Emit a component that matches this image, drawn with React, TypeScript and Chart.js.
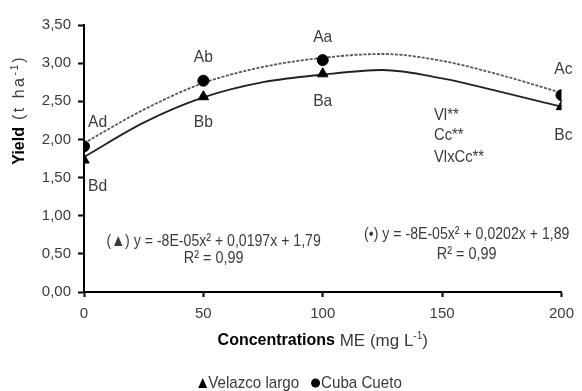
import React, { useEffect, useRef } from 'react';
import { Chart, registerables } from 'chart.js';

Chart.register(...registerables);

// ---- data ----
const concentrations = [0, 50, 100, 200];
const velazcoYield = [1.73, 2.56, 2.86, 2.43];
const cubaYield = [1.91, 2.77, 3.04, 2.58];

// fitted trend curves
const trendX = [0, 25, 50, 75, 100, 125, 150, 175, 200];
const velazcoTrend = [1.77, 2.22, 2.55, 2.75, 2.85, 2.91, 2.8, 2.62, 2.43];
const cubaTrend = [1.95, 2.39, 2.74, 2.95, 3.07, 3.12, 3.03, 2.84, 2.61];

const xTickValues = [0, 50, 100, 150, 200];
const yTickValues = [0, 0.5, 1, 1.5, 2, 2.5, 3, 3.5];

const seriesNames = ['Velazco largo', 'Cuba Cueto'];
const velazcoLetters = ['Bd', 'Bb', 'Ba', 'Bc'];
const cubaLetters = ['Ad', 'Ab', 'Aa', 'Ac'];
const significance = ['Vl**', 'Cc**', 'VlxCc**'];
const equationVelazco = '(\u25B2) y = -8E-05x\u00B2 + 0,0197x + 1,79';
const equationCuba = '(\u2022) y = -8E-05x\u00B2 + 0,0202x + 1,89';
const rSquared = 'R\u00B2 = 0,99';

const TEXT = '#3b3b3b';
const SANS = '"Liberation Sans", Arial, sans-serif';

type Part = { text: string; font: string; sup?: boolean; color?: string; spacing?: number };

function drawRich(ctx: CanvasRenderingContext2D, parts: Part[], cx: number, cy: number) {
  const c: any = ctx;
  let total = 0;
  parts.forEach((p) => {
    ctx.font = p.font;
    c.letterSpacing = `${p.spacing || 0}px`;
    total += ctx.measureText(p.text).width;
  });
  let x = cx - total / 2;
  ctx.textAlign = 'left';
  ctx.textBaseline = 'middle';
  parts.forEach((p) => {
    ctx.font = p.font;
    c.letterSpacing = `${p.spacing || 0}px`;
    ctx.fillStyle = p.color || '#000';
    ctx.fillText(p.text, x, p.sup ? cy - 5 : cy);
    x += ctx.measureText(p.text).width;
  });
  c.letterSpacing = '0px';
}

function condText(
  ctx: CanvasRenderingContext2D,
  text: string,
  x: number,
  y: number,
  align: 'left' | 'center' | 'right',
  sx: number
) {
  const w = ctx.measureText(text).width * sx;
  const left = align === 'center' ? x - w / 2 : align === 'right' ? x - w : x;
  ctx.save();
  ctx.translate(left, y);
  ctx.scale(sx, 1);
  ctx.textAlign = 'left';
  ctx.fillText(text, 0, 0);
  ctx.restore();
  return w;
}

const annotationPlugin = {
  id: 'annotations',
  afterDraw(chart: any) {
    const ctx: CanvasRenderingContext2D = chart.ctx;
    const xs = chart.scales.x;
    const ys = chart.scales.y;
    const px = (v: number) => xs.getPixelForValue(v);
    const py = (v: number) => ys.getPixelForValue(v);
    ctx.save();
    ctx.fillStyle = TEXT;
    ctx.textBaseline = 'middle';
    ctx.font = `17px ${SANS}`;

    // letters of mean comparison
    const cubaLetterY = [2.22, 3.08, 3.34, 2.92];
    const velLetterY = [1.38, 2.22, 2.5, 2.06];
    concentrations.forEach((c, i) => {
      const align = i === 0 ? 'left' : 'center';
      const xx = i === 0 ? px(c) + 4 : px(c) + (i === 3 ? 2 : 0);
      condText(ctx, cubaLetters[i], xx, py(cubaLetterY[i]), align, 0.92);
      condText(ctx, velazcoLetters[i], xx, py(velLetterY[i]), align, 0.92);
    });

    // significance
    const sigY = [2.32, 2.06, 1.77];
    significance.forEach((s, i) => condText(ctx, s, px(146.6), py(sigY[i]), 'left', 0.87));

    // equations
    condText(ctx, equationVelazco, px(54.3), py(0.67), 'center', 0.83);
    condText(ctx, rSquared, px(54.3), py(0.44), 'center', 0.85);
    condText(ctx, equationCuba, px(160.3), py(0.75), 'center', 0.83);
    condText(ctx, rSquared, px(160.3), py(0.49), 'center', 0.85);

    // x axis title
    const midX = (chart.chartArea.left + chart.chartArea.right) / 2;
    drawRich(
      ctx,
      [
        { text: 'Concentrations', font: `bold 16px ${SANS}`, color: '#000' },
        { text: ' ME (mg L', font: `17px ${SANS}`, color: TEXT },
        { text: '-1', font: `10px ${SANS}`, sup: true, color: TEXT },
        { text: ')', font: `17px ${SANS}`, color: TEXT },
      ],
      midX,
      341
    );

    // y axis title
    ctx.save();
    ctx.translate(20, 111);
    ctx.rotate(-Math.PI / 2);
    drawRich(
      ctx,
      [
        { text: 'Yield', font: `bold 16px ${SANS}`, color: '#000' },
        { text: ' (t ha', font: `16px ${SANS}`, color: TEXT, spacing: 2.5 },
        { text: '-1', font: `10px ${SANS}`, sup: true, color: TEXT, spacing: 2 },
        { text: ')', font: `16px ${SANS}`, color: TEXT },
      ],
      0,
      0
    );
    ctx.restore();

    // legend
    ctx.font = `17px ${SANS}`;
    const ly = 383;
    const sxL = 0.89;
    const markerW = 9;
    const gap = 12;
    const w1 = ctx.measureText(seriesNames[0]).width * sxL;
    const w2 = ctx.measureText(seriesNames[1]).width * sxL;
    const total = markerW + 1 + w1 + gap + markerW + 1 + w2;
    let lx = 300 - total / 2;
    ctx.fillStyle = '#000';
    ctx.beginPath();
    ctx.moveTo(lx, ly + 5);
    ctx.lineTo(lx + markerW, ly + 5);
    ctx.lineTo(lx + markerW / 2, ly - 5);
    ctx.closePath();
    ctx.fill();
    lx += markerW + 1;
    ctx.fillStyle = TEXT;
    condText(ctx, seriesNames[0], lx, ly, 'left', sxL);
    lx += w1 + gap;
    ctx.fillStyle = '#000';
    ctx.beginPath();
    ctx.arc(lx + markerW / 2, ly, 4.5, 0, Math.PI * 2);
    ctx.fill();
    lx += markerW + 1;
    ctx.fillStyle = TEXT;
    condText(ctx, seriesNames[1], lx, ly, 'left', sxL);

    ctx.restore();
  },
};

export default function App() {
  const canvasRef = useRef<HTMLCanvasElement | null>(null);

  useEffect(() => {
    const canvas = canvasRef.current;
    if (!canvas) return;
    const chart = new Chart(canvas, {
      type: 'scatter',
      data: {
        datasets: [
          {
            label: seriesNames[1],
            data: concentrations.map((x, i) => ({ x, y: cubaYield[i] })),
            pointStyle: 'circle',
            pointRadius: 5.5,
            backgroundColor: '#000',
            borderColor: '#000',
            showLine: false,
          },
          {
            label: seriesNames[0],
            data: concentrations.map((x, i) => ({ x, y: velazcoYield[i] })),
            pointStyle: 'triangle',
            pointRadius: 6,
            backgroundColor: '#000',
            borderColor: '#000',
            showLine: false,
          },
          {
            label: seriesNames[1] + ' trend',
            data: trendX.map((x, i) => ({ x, y: cubaTrend[i] })),
            showLine: true,
            pointRadius: 0,
            borderColor: '#555',
            borderWidth: 1.8,
            borderDash: [3, 1.5],
            tension: 0.4,
            cubicInterpolationMode: 'monotone',
          },
          {
            label: seriesNames[0] + ' trend',
            data: trendX.map((x, i) => ({ x, y: velazcoTrend[i] })),
            showLine: true,
            pointRadius: 0,
            borderColor: '#222',
            borderWidth: 1.8,
            tension: 0.4,
            cubicInterpolationMode: 'monotone',
          },
        ],
      },
      options: {
        responsive: false,
        animation: false,
        devicePixelRatio: 1,
        layout: { padding: { top: 25, right: 19, left: 0, bottom: 0 } },
        plugins: {
          legend: { display: false },
          tooltip: { enabled: false },
        },
        scales: {
          x: {
            type: 'linear',
            min: 0,
            max: 200,
            afterBuildTicks: (s: any) => {
              s.ticks = xTickValues.map((v) => ({ value: v }));
            },
            afterFit: (s: any) => {
              s.height = 99;
            },
            ticks: {
              color: TEXT,
              font: { family: SANS, size: 15 },
              padding: 8,
              maxRotation: 0,
              callback: (v: any) => String(v),
            },
            grid: {
              drawOnChartArea: false,
              drawTicks: true,
              tickLength: 5,
              tickColor: '#000',
              tickWidth: 2,
            },
            border: { color: '#000', width: 2 },
          },
          y: {
            type: 'linear',
            min: 0,
            max: 3.5,
            afterBuildTicks: (s: any) => {
              s.ticks = yTickValues.map((v) => ({ value: v }));
            },
            afterFit: (s: any) => {
              s.width = 84;
            },
            ticks: {
              color: TEXT,
              font: { family: SANS, size: 15 },
              padding: 7,
              callback: (v: any) => Number(v).toFixed(2).replace('.', ','),
            },
            grid: {
              drawOnChartArea: false,
              drawTicks: true,
              tickLength: 6,
              tickColor: '#000',
              tickWidth: 2,
            },
            border: { color: '#000', width: 2 },
          },
        },
      },
      plugins: [annotationPlugin],
    } as any);
    return () => chart.destroy();
  }, []);

  return (
    <div style={{ position: 'fixed', left: 0, top: 0, width: 582, height: 391, background: '#fff' }}>
      <canvas ref={canvasRef} width={582} height={391} style={{ display: 'block' }} />
    </div>
  );
}
